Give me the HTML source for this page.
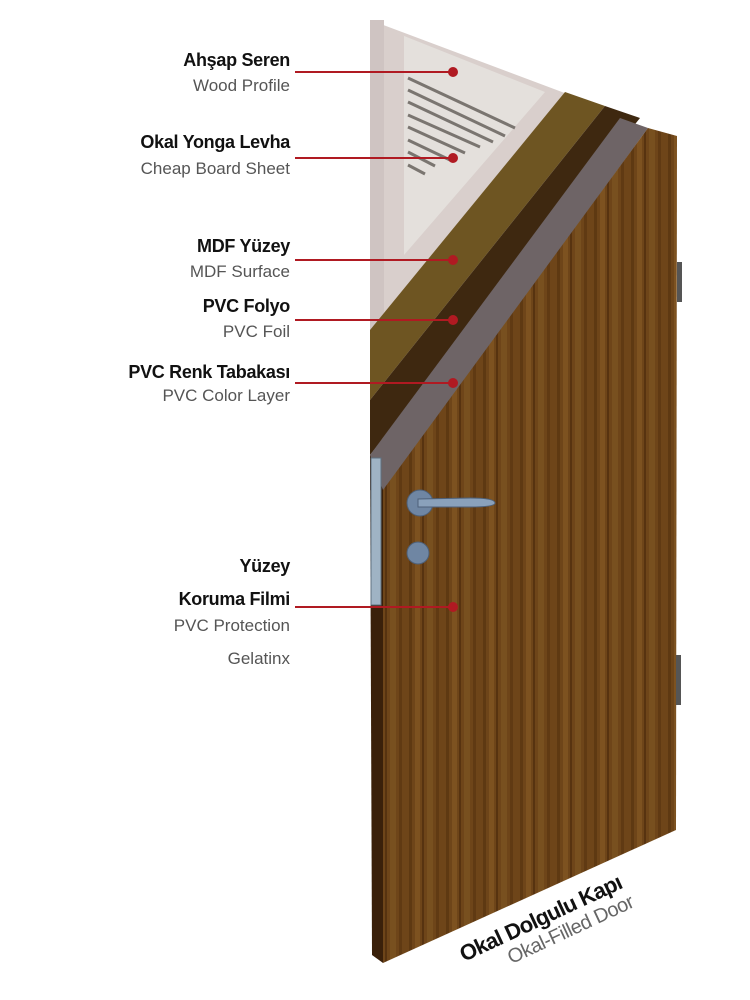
<!DOCTYPE html>
<html><head><meta charset="utf-8"><style>
html,body{margin:0;padding:0;background:#fff;}
body{width:750px;height:1000px;position:relative;overflow:hidden;font-family:"Liberation Sans",sans-serif;}
.t{position:absolute;right:460px;text-align:right;white-space:nowrap;color:#111;}
.b{font-weight:bold;font-size:18px;letter-spacing:-0.3px;}
.l{font-size:17px;color:#555;font-weight:normal;}
</style></head><body>
<svg width="750" height="1000" style="position:absolute;left:0;top:0">
<defs>
<pattern id="grain" width="37" height="40" patternUnits="userSpaceOnUse">
<rect width="37" height="40" fill="#6e4519"/>
<rect x="2" width="3" height="40" fill="#5e3912"/>
<rect x="8" width="5" height="40" fill="#7d5220"/>
<rect x="15" width="2" height="40" fill="#573310"/>
<rect x="20" width="6" height="40" fill="#78501f"/>
<rect x="29" width="3" height="40" fill="#603a13"/>
</pattern>
</defs>
<polygon points="370,20 570,95 370,330" fill="#d9cfcc"/>
<polygon points="384,28 545,92 404,255 404,36" fill="#e4e0dc"/>
<rect x="370" y="20" width="14" height="320" fill="#cfc4c2"/>
<g stroke="#7a7570" stroke-width="3">
<line x1="408" y1="78" x2="515" y2="128"/>
<line x1="408" y1="90" x2="505" y2="136"/>
<line x1="408" y1="102" x2="493" y2="142"/>
<line x1="408" y1="115" x2="480" y2="147"/>
<line x1="408" y1="127" x2="465" y2="153"/>
<line x1="408" y1="140" x2="450" y2="160"/>
<line x1="408" y1="152" x2="435" y2="166"/>
<line x1="408" y1="165" x2="425" y2="174"/>
</g>
<polygon points="565,92 605,106 370,400 370,330" fill="#6e5522"/>
<polygon points="605,106 640,118 370,455 370,400" fill="#3e2810"/>
<polygon points="620,118 648,128 385,490 370,490 370,455" fill="#6e6466"/>
<polygon points="648,128 677,136 676,830 383,963 383,490" fill="url(#grain)"/>
<polygon points="370,455 383,490 383,963 372,955" fill="#3a200a"/>
<rect x="371" y="458" width="10" height="147" fill="#9fb3c4" stroke="#5f7080"/>
<rect x="677" y="262" width="5" height="40" fill="#555"/>
<rect x="676" y="655" width="5" height="50" fill="#555"/>
<circle cx="420" cy="503" r="13" fill="#6f86a3" stroke="#4e6078"/>
<path d="M418,499 L470,498 Q495,498 495,503 Q495,507 470,507 L418,507Z" fill="#8aa1bb" stroke="#4e6078"/>
<circle cx="418" cy="553" r="11" fill="#6f86a3" stroke="#4e6078"/>
<g stroke="#b01a22" stroke-width="2" fill="#b01a22">
<line x1="295" y1="72" x2="452" y2="72"/><circle cx="453" cy="72" r="4"/>
<line x1="295" y1="158" x2="452" y2="158"/><circle cx="453" cy="158" r="4"/>
<line x1="295" y1="260" x2="452" y2="260"/><circle cx="453" cy="260" r="4"/>
<line x1="295" y1="320" x2="452" y2="320"/><circle cx="453" cy="320" r="4"/>
<line x1="295" y1="383" x2="452" y2="383"/><circle cx="453" cy="383" r="4"/>
<line x1="295" y1="607" x2="452" y2="607"/><circle cx="453" cy="607" r="4"/>
</g>
<g transform="translate(464,962) rotate(-25)" font-family="Liberation Sans,sans-serif">
<text x="0" y="0" font-size="22" font-weight="bold" fill="#111" letter-spacing="-0.8">Okal Dolgulu Kapı</text>
<text x="42" y="22" font-size="20" fill="#666" letter-spacing="-0.5">Okal-Filled Door</text>
</g>
</svg>
<div class="t b" style="top:50px">Ahşap Seren</div>
<div class="t l" style="top:76px">Wood Profile</div>
<div class="t b" style="top:132px">Okal Yonga Levha</div>
<div class="t l" style="top:159px">Cheap Board Sheet</div>
<div class="t b" style="top:236px">MDF Yüzey</div>
<div class="t l" style="top:262px">MDF Surface</div>
<div class="t b" style="top:296px">PVC Folyo</div>
<div class="t l" style="top:322px">PVC Foil</div>
<div class="t b" style="top:362px">PVC Renk Tabakası</div>
<div class="t l" style="top:386px">PVC Color Layer</div>
<div class="t b" style="top:556px">Yüzey</div>
<div class="t b" style="top:589px">Koruma Filmi</div>
<div class="t l" style="top:616px">PVC Protection</div>
<div class="t l" style="top:649px">Gelatinx</div>
</body></html>
